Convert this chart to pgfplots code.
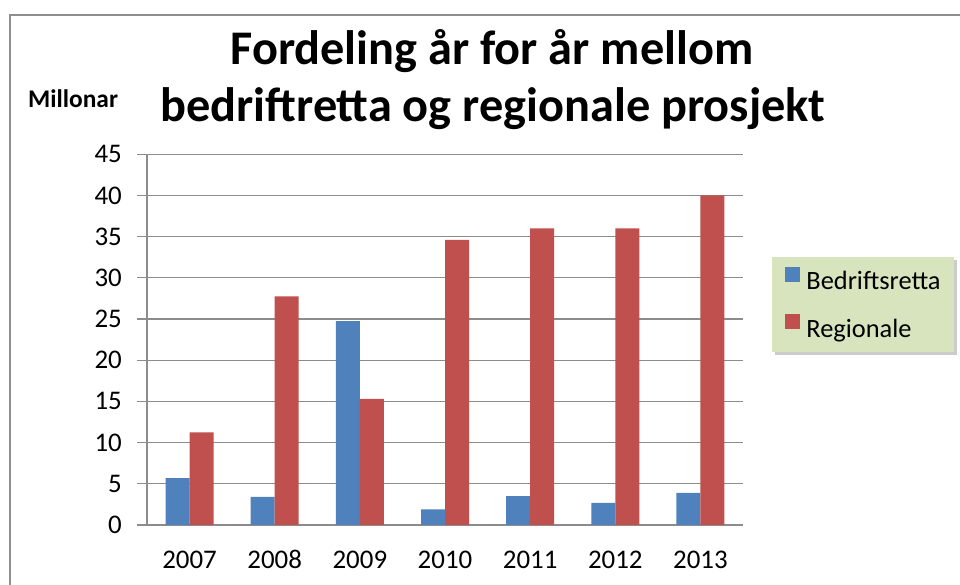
\documentclass[border=0pt]{standalone}
\usepackage{fontspec}
\setmainfont{Carlito}
\usepackage{pgfplots}
\usepackage{pgfplotstable}
\pgfplotsset{compat=1.18}
\usetikzlibrary{shadows}
\makeatletter
\tikzset{no preactions/.code={\let\tikz@preactions\pgfutil@empty}}
\makeatother
\definecolor{xlblue}{HTML}{4F81BD}
\definecolor{xlred}{HTML}{C0504D}
\definecolor{gridgray}{HTML}{8C8C8C}
\definecolor{framegray}{HTML}{8E8E8E}
\definecolor{legfill}{HTML}{D7E4BE}

\pgfplotstableread{
x b r
0 5.7 11.25
1 3.4 27.75
2 24.75 15.3
3 1.9 34.6
4 3.5 36.0
5 2.7 36.0
6 3.9 40.0
}\datatable

\begin{document}
\begin{tikzpicture}
\useasboundingbox (0,0) rectangle (960bp,585bp);
\fill[white] (0,0) rectangle (960bp,585bp);
\draw[framegray, line width=2bp] (10bp,-5bp) -- (10bp,570bp) -- (965bp,570bp);

\node[anchor=base, inner sep=0pt, font=\bfseries\fontsize{48.5}{48.5}\selectfont] at (492bp,520bp) {Fordeling år for år mellom};
\node[anchor=base, inner sep=0pt, font=\bfseries\fontsize{48.5}{48.5}\selectfont] at (493bp,463bp) {bedriftretta og regionale prosjekt};
\node[anchor=base west, inner sep=0pt, font=\bfseries\fontsize{25.5}{25.5}\selectfont] at (28bp,477.7bp) {Millonar};

\begin{axis}[
  at={(147bp,60bp)}, anchor=south west,
  scale only axis, width=596bp, height=370.7bp,
  ybar=0pt, bar width=24bp,
  xmin=-0.5, xmax=6.5, ymin=0, ymax=45,
  axis x line*=bottom, axis y line*=left,
  axis line style={gridgray, line width=1.2bp},
  ymajorgrids, grid style={gridgray, line width=1.2bp},
  xtick={0,...,6},
  xticklabels={2007,2008,2009,2010,2011,2012,2013},
  minor xtick={-0.5,0.5,...,6.5},
  ytick={0,5,...,45},
  tick align=outside,
  major tick length=10bp, minor tick length=9bp,
  xtick style={draw=none},
  minor tick style={gridgray, line width=1.2bp},
  ytick style={gridgray, line width=1.2bp},
  /pgf/number format/assume math mode=true,
  tick label style={font=\fontsize{27}{27}\selectfont, inner sep=0pt},
  xticklabel style={anchor=north, text height=17bp, text depth=0pt, yshift=-16bp},
  yticklabel style={xshift=-15bp},
  legend style={at={(1.048,0.724)}, anchor=north west,
    draw=none, fill=legfill,
    drop shadow={shadow xshift=3bp, shadow yshift=-3bp, opacity=0.4},
    inner xsep=13bp, inner ysep=10bp, row sep=19bp, column sep=6.6bp,
    font=\fontsize{26.5}{26.5}\selectfont,
    nodes={inner sep=0pt, text height=18bp, text depth=5bp}},
  legend cell align=left,
  legend image code/.code={\fill[#1, no preactions] (0bp,1.6bp) rectangle (15bp,16.6bp);},
]
\addplot[fill=xlblue, draw=none] table[x=x, y=b] {\datatable};
\addplot[fill=xlred, draw=none] table[x=x, y=r] {\datatable};
\legend{Bedriftsretta, Regionale}
\end{axis}
\end{tikzpicture}
\end{document}
